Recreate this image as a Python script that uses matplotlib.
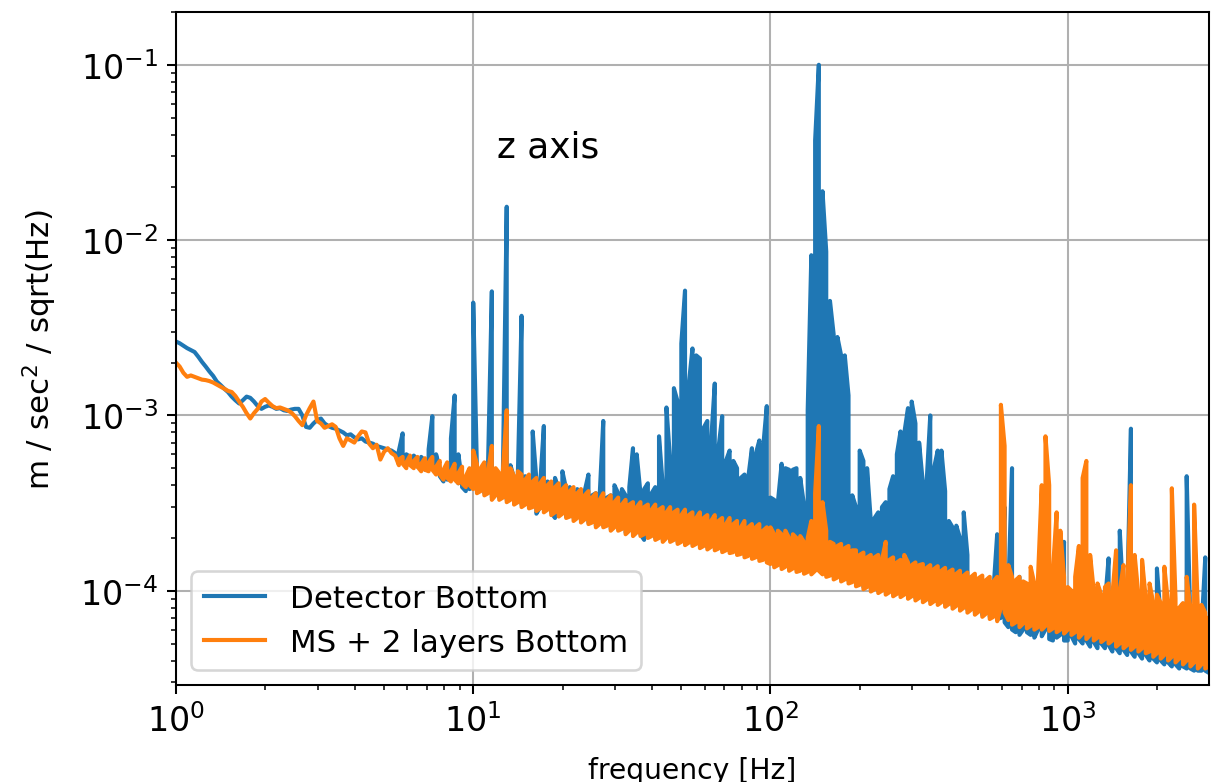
import matplotlib
matplotlib.use('Agg')
import numpy as np
import matplotlib.pyplot as plt

# Frequency bins of the amplitude spectra [Hz], 80 bins per decade
freq_hz = [
    # 1 - 10 Hz
    1.000, 1.029, 1.059, 1.090, 1.122, 1.155, 1.189, 1.223, 1.259, 1.296,
    1.334, 1.372, 1.413, 1.454, 1.496, 1.540, 1.585, 1.631, 1.679, 1.728,
    1.778, 1.830, 1.884, 1.939, 1.995, 2.054, 2.113, 2.175, 2.239, 2.304,
    2.371, 2.441, 2.512, 2.585, 2.661, 2.738, 2.818, 2.901, 2.985, 3.073,
    3.162, 3.255, 3.350, 3.447, 3.548, 3.652, 3.758, 3.868, 3.981, 4.097,
    4.217, 4.340, 4.467, 4.597, 4.732, 4.870, 5.012, 5.158, 5.309, 5.464,
    5.623, 5.788, 5.957, 6.131, 6.310, 6.494, 6.683, 6.879, 7.079, 7.286,
    7.499, 7.718, 7.943, 8.175, 8.414, 8.660, 8.913, 9.173, 9.441, 9.716,
    # 10 - 100 Hz
    10.00, 10.29, 10.59, 10.90, 11.22, 11.55, 11.89, 12.23, 12.59, 12.96,
    13.34, 13.72, 14.13, 14.54, 14.96, 15.40, 15.85, 16.31, 16.79, 17.28,
    17.78, 18.30, 18.84, 19.39, 19.95, 20.54, 21.13, 21.75, 22.39, 23.04,
    23.71, 24.41, 25.12, 25.85, 26.61, 27.38, 28.18, 29.01, 29.85, 30.73,
    31.62, 32.55, 33.50, 34.47, 35.48, 36.52, 37.58, 38.68, 39.81, 40.97,
    42.17, 43.40, 44.67, 45.97, 47.32, 48.70, 50.12, 51.58, 53.09, 54.64,
    56.23, 57.88, 59.57, 61.31, 63.10, 64.94, 66.83, 68.79, 70.79, 72.86,
    74.99, 77.18, 79.43, 81.75, 84.14, 86.60, 89.13, 91.73, 94.41, 97.16,
    # 100 - 1000 Hz
    100.0, 102.9, 105.9, 109.0, 112.2, 115.5, 118.9, 122.3, 125.9, 129.6,
    133.4, 137.2, 141.3, 145.4, 149.6, 154.0, 158.5, 163.1, 167.9, 172.8,
    177.8, 183.0, 188.4, 193.9, 199.5, 205.4, 211.3, 217.5, 223.9, 230.4,
    237.1, 244.1, 251.2, 258.5, 266.1, 273.8, 281.8, 290.1, 298.5, 307.3,
    316.2, 325.5, 335.0, 344.7, 354.8, 365.2, 375.8, 386.8, 398.1, 409.7,
    421.7, 434.0, 446.7, 459.7, 473.2, 487.0, 501.2, 515.8, 530.9, 546.4,
    562.3, 578.8, 595.7, 613.1, 631.0, 649.4, 668.3, 687.9, 707.9, 728.6,
    749.9, 771.8, 794.3, 817.5, 841.4, 866.0, 891.3, 917.3, 944.1, 971.6,
    # 1 - 3 kHz
    1000, 1029, 1059, 1090, 1122, 1155, 1189, 1223, 1259, 1296,
    1334, 1372, 1413, 1454, 1496, 1540, 1585, 1631, 1679, 1728,
    1778, 1830, 1884, 1939, 1995, 2054, 2113, 2175, 2239, 2304,
    2371, 2441, 2512, 2585, 2661, 2738, 2818, 2901, 2985,
]

# Detector bottom sensor, z axis: max / min of the ASD in each bin
# [1e-4 m/s^2/sqrt(Hz)]
detector_upper = [
    26.4, 25.8, 25.0, 24.2, 23.6, 23.0, 21.6, 20.2, 19.0, 17.8,
    16.8, 15.6, 14.9, 14.2, 13.6, 12.8, 12.2, 11.7, 12.2, 12.8,
    12.6, 12.0, 11.3, 10.9, 11.2, 11.4, 11.2, 10.9, 11.0, 10.7,
    10.6, 10.8, 10.9, 10.9, 10.0, 8.6, 8.5, 9.0, 9.4, 9.6,
    9.0, 8.7, 8.5, 8.4, 8.2, 8.0, 7.7, 7.8, 7.5, 7.3,
    7.4, 7.1, 7.0, 6.9, 6.7, 6.6, 6.5, 6.4, 6.3, 6.1,
    6.3, 7.9, 6.0, 5.8, 5.9, 5.6, 5.8, 5.5, 6.4, 9.9,
    6.0, 5.0, 4.6, 5.2, 7.4, 13.0, 6.0, 4.2, 3.9, 4.3,

    44.0, 5.0, 4.6, 5.2, 5.4, 51.0, 4.8, 4.5, 5.0, 155.0,
    5.2, 4.4, 4.6, 37.0, 4.5, 4.2, 8.1, 4.3, 4.0, 8.7,
    4.2, 3.9, 4.4, 3.8, 4.8, 3.8, 3.9, 3.6, 3.8, 3.5,
    3.7, 4.6, 3.5, 3.6, 3.4, 9.3, 3.4, 3.5, 4.0, 3.6,
    3.8, 3.5, 3.9, 6.5, 6.0, 3.6, 3.8, 4.1, 3.6, 3.9,
    7.6, 4.0, 11.1, 5.5, 14.3, 12.0, 25.7, 51.5, 15.0, 24.1,
    22.0, 21.1, 8.5, 9.3, 7.0, 15.2, 6.5, 9.9, 5.5, 6.3,
    5.5, 5.0, 4.4, 4.6, 4.4, 6.5, 6.0, 7.2, 6.5, 11.3,

    3.4, 3.3, 3.2, 5.3, 5.0, 4.9, 4.9, 5.0, 4.4, 3.1,
    10.7, 82.0, 370.0, 1000.0, 190.0, 86.0, 45.0, 29.0, 28.0, 22.0,
    22.0, 13.0, 3.5, 3.0, 6.3, 5.5, 5.0, 2.5, 2.6, 2.8,
    3.0, 3.2, 3.8, 4.5, 6.0, 8.1, 7.9, 11.0, 12.0, 9.0,
    7.0, 4.1, 4.1, 10.0, 5.0, 6.3, 6.3, 3.7, 2.5, 2.3,
    2.35, 2.0, 2.8, 1.6, 1.17, 1.1, 1.0, 1.1, 1.0, 1.05,
    1.0, 2.1, 1.0, 3.0, 1.0, 5.0, 1.1, 1.2, 0.9, 1.0,
    0.95, 1.1, 0.9, 1.2, 0.9, 1.1, 0.9, 1.0, 0.9, 1.9,

    0.9, 1.0, 0.95, 0.9, 0.95, 1.0, 0.9, 0.93, 0.9, 0.9,
    0.85, 1.53, 0.85, 0.9, 2.2, 0.85, 0.9, 8.4, 0.9, 0.8,
    0.8, 0.75, 0.75, 0.7, 1.34, 0.7, 0.7, 0.7, 0.8, 0.7,
    0.7, 0.65, 4.5, 0.65, 0.7, 0.6, 0.6, 1.55, 0.6,
]

detector_lower = [
    26.4, 25.8, 25.0, 24.2, 23.6, 23.0, 21.6, 20.2, 19.0, 17.8,
    16.8, 15.6, 14.9, 14.2, 13.6, 12.8, 12.2, 11.7, 12.2, 12.8,
    12.6, 12.0, 11.3, 10.9, 11.2, 11.4, 11.2, 10.9, 11.0, 10.7,
    10.6, 10.8, 10.9, 10.9, 10.0, 8.6, 8.5, 9.0, 9.4, 9.6,
    9.0, 8.7, 8.5, 8.4, 8.2, 8.0, 7.7, 7.8, 7.5, 7.3,
    7.4, 7.1, 7.0, 6.9, 6.7, 6.6, 6.5, 6.4, 6.3, 6.1,
    5.8, 5.7, 5.5, 5.3, 5.4, 5.1, 5.2, 4.9, 5.0, 5.0,
    4.8, 4.5, 4.2, 4.3, 4.4, 4.5, 4.1, 3.9, 3.7, 3.8,

    3.9, 3.7, 3.8, 3.6, 3.7, 3.4, 3.6, 3.4, 3.5, 3.3,
    3.4, 3.2, 3.3, 3.1, 3.2, 3.0, 3.1, 2.75, 3.0, 2.9,
    3.0, 2.8, 2.6, 2.75, 2.8, 2.65, 2.7, 2.6, 2.65, 2.5,
    2.6, 2.45, 2.5, 2.35, 2.45, 2.35, 2.4, 2.25, 2.35, 2.25,
    2.3, 2.15, 2.25, 2.1, 2.2, 2.1, 1.95, 2.05, 2.1, 2.0,
    2.05, 1.95, 2.05, 1.95, 2.0, 1.9, 1.95, 1.87, 1.93, 1.85,
    1.9, 1.8, 1.85, 1.77, 1.83, 1.75, 1.79, 1.71, 1.75, 1.69,
    1.71, 1.65, 1.67, 1.6, 1.63, 1.57, 1.6, 1.53, 1.55, 1.5,

    1.46, 1.4, 1.44, 1.37, 1.41, 1.34, 1.38, 1.32, 1.34, 1.29,
    1.32, 1.28, 1.34, 1.34, 1.28, 1.24, 1.26, 1.2, 1.23, 1.17,
    1.2, 1.14, 1.16, 1.1, 1.12, 1.05, 1.08, 1.02, 1.05, 1.0,
    1.03, 0.98, 1.01, 0.96, 0.99, 0.95, 0.98, 0.93, 0.96, 0.91,
    0.94, 0.89, 0.92, 0.87, 0.9, 0.86, 0.89, 0.84, 0.87, 0.82,
    0.85, 0.8, 0.83, 0.78, 0.8, 0.75, 0.78, 0.73, 0.76, 0.71,
    0.73, 0.69, 0.7, 0.66, 0.62, 0.6, 0.58, 0.56, 0.6, 0.58,
    0.56, 0.54, 0.6, 0.55, 0.6, 0.53, 0.52, 0.54, 0.56, 0.52,

    0.52, 0.55, 0.5, 0.53, 0.5, 0.52, 0.48, 0.51, 0.47, 0.5,
    0.47, 0.49, 0.45, 0.47, 0.44, 0.46, 0.43, 0.45, 0.42, 0.44,
    0.41, 0.43, 0.4, 0.41, 0.39, 0.4, 0.38, 0.39, 0.37, 0.38,
    0.36, 0.37, 0.36, 0.36, 0.35, 0.35, 0.35, 0.35, 0.34,
]

# MS + 2 layers, bottom sensor, z axis: max / min of the ASD in each bin
# [1e-4 m/s^2/sqrt(Hz)]
ms_2layers_upper = [
    20.0, 19.0, 17.5, 16.6, 16.9, 16.6, 16.3, 16.0, 15.9, 15.7,
    15.4, 15.0, 14.6, 14.2, 13.8, 13.6, 12.9, 12.0, 11.2, 10.3,
    9.6, 10.3, 10.9, 12.0, 12.4, 11.8, 11.3, 11.0, 11.1, 10.9,
    10.7, 10.4, 9.9, 9.3, 8.8, 10.0, 11.0, 12.0, 9.3, 9.0,
    8.5, 8.7, 8.9, 8.6, 7.4, 6.7, 7.4, 7.2, 7.0, 7.6,
    8.1, 8.0, 6.9, 6.5, 6.8, 5.6, 6.2, 6.5, 6.1, 5.9,
    5.6, 5.8, 5.4, 5.9, 5.5, 5.8, 5.3, 5.7, 5.4, 5.8,
    5.1, 5.5, 4.9, 5.4, 4.8, 5.3, 4.7, 5.1, 4.5, 5.0,

    6.3, 5.3, 5.0, 5.4, 4.8, 6.7, 5.0, 4.7, 4.9, 10.7,
    5.0, 4.5, 4.8, 4.6, 4.3, 4.6, 4.2, 4.4, 4.1, 4.4,
    4.0, 4.2, 3.9, 4.1, 3.8, 4.0, 3.7, 3.9, 3.6, 3.8,
    3.5, 3.7, 3.4, 3.6, 3.3, 3.6, 3.3, 3.5, 3.2, 3.4,
    3.1, 3.3, 3.1, 3.2, 3.0, 3.2, 3.0, 3.1, 2.9, 3.1,
    2.9, 3.0, 2.8, 3.0, 2.8, 2.9, 2.7, 2.9, 2.7, 2.8,
    2.6, 2.8, 2.6, 2.7, 2.5, 2.7, 2.5, 2.6, 2.4, 2.6,
    2.4, 2.5, 2.3, 2.5, 2.3, 2.4, 2.3, 2.4, 2.2, 2.3,

    2.3, 2.1, 2.2, 2.1, 2.2, 2.0, 2.1, 2.0, 2.05, 1.9,
    2.0, 2.5, 3.6, 8.7, 3.2, 2.2, 1.9, 1.85, 1.8, 1.85,
    1.75, 1.8, 1.7, 1.7, 1.6, 1.65, 1.55, 1.6, 1.55, 1.6,
    1.5, 1.9, 1.5, 1.55, 1.45, 1.5, 1.6, 1.45, 1.4, 1.45,
    1.4, 1.42, 1.35, 1.4, 1.33, 1.38, 1.3, 1.35, 1.28, 1.32,
    1.25, 1.3, 1.22, 1.27, 1.2, 1.25, 1.18, 1.22, 1.15, 1.2,
    1.13, 1.2, 11.5, 6.7, 1.4, 1.2, 1.15, 1.2, 1.13, 1.1,
    1.37, 1.1, 1.2, 4.0, 7.6, 4.0, 1.3, 2.8, 2.2, 1.2,

    1.05, 1.0, 1.2, 1.8, 4.4, 5.5, 1.6, 1.0, 1.1, 0.95,
    1.05, 1.1, 0.95, 1.7, 1.0, 1.4, 1.0, 4.0, 1.6, 0.95,
    1.5, 0.9, 1.1, 0.85, 0.95, 0.85, 1.37, 0.85, 3.84, 0.9,
    0.8, 0.85, 1.2, 0.8, 3.1, 0.8, 0.83, 0.75, 0.7,
]

ms_2layers_lower = [
    20.0, 19.0, 17.5, 16.6, 16.9, 16.6, 16.3, 16.0, 15.9, 15.7,
    15.4, 15.0, 14.6, 14.2, 13.8, 13.6, 12.9, 12.0, 11.2, 10.3,
    9.6, 10.3, 10.9, 12.0, 12.4, 11.8, 11.3, 11.0, 11.1, 10.9,
    10.7, 10.4, 9.9, 9.3, 8.8, 10.0, 11.0, 12.0, 9.3, 9.0,
    8.5, 8.7, 8.9, 8.6, 7.4, 6.7, 7.4, 7.2, 7.0, 7.6,
    8.1, 8.0, 6.9, 6.5, 6.8, 5.6, 6.2, 6.5, 6.1, 5.9,
    5.2, 5.3, 5.0, 5.2, 5.0, 5.1, 4.8, 4.9, 4.8, 4.9,
    4.6, 4.6, 4.3, 4.4, 4.2, 4.3, 4.1, 4.1, 3.9, 4.0,

    3.8, 3.6, 3.7, 3.5, 3.6, 3.3, 3.5, 3.3, 3.4, 3.2,
    3.3, 3.1, 3.2, 3.0, 3.1, 2.95, 3.0, 2.85, 2.95, 2.8,
    2.9, 2.7, 2.8, 2.65, 2.75, 2.6, 2.65, 2.5, 2.6, 2.45,
    2.55, 2.4, 2.45, 2.3, 2.4, 2.3, 2.35, 2.2, 2.3, 2.2,
    2.25, 2.1, 2.2, 2.05, 2.15, 2.05, 2.1, 2.0, 2.05, 1.95,
    2.0, 1.9, 2.0, 1.9, 1.95, 1.85, 1.9, 1.82, 1.88, 1.8,
    1.85, 1.75, 1.8, 1.72, 1.78, 1.7, 1.74, 1.66, 1.7, 1.64,
    1.66, 1.6, 1.62, 1.55, 1.58, 1.52, 1.55, 1.48, 1.5, 1.45,

    1.42, 1.36, 1.4, 1.33, 1.37, 1.3, 1.34, 1.28, 1.3, 1.25,
    1.28, 1.24, 1.3, 1.3, 1.24, 1.2, 1.22, 1.16, 1.19, 1.13,
    1.16, 1.1, 1.12, 1.06, 1.08, 1.02, 1.05, 0.99, 1.02, 0.97,
    1.0, 0.95, 0.98, 0.93, 0.96, 0.92, 0.95, 0.9, 0.93, 0.88,
    0.91, 0.86, 0.89, 0.84, 0.87, 0.83, 0.86, 0.81, 0.84, 0.79,
    0.82, 0.77, 0.8, 0.75, 0.78, 0.73, 0.76, 0.71, 0.74, 0.69,
    0.71, 0.67, 0.8, 0.75, 0.68, 0.64, 0.66, 0.62, 0.65, 0.61,
    0.63, 0.6, 0.62, 0.6, 0.63, 0.59, 0.61, 0.58, 0.6, 0.57,

    0.6, 0.56, 0.58, 0.54, 0.57, 0.53, 0.56, 0.52, 0.54, 0.51,
    0.53, 0.5, 0.52, 0.48, 0.5, 0.47, 0.49, 0.46, 0.48, 0.45,
    0.47, 0.44, 0.45, 0.42, 0.44, 0.41, 0.43, 0.4, 0.42, 0.39,
    0.41, 0.38, 0.4, 0.37, 0.39, 0.36, 0.38, 0.36, 0.37,
]

labels = ['Detector Bottom', 'MS + 2 layers Bottom']


# Each bin is drawn from its min to its max, alternating direction so that
# the trace runs along the top and bottom edges like a dense spectrum
def minmax_trace(freq, upper, lower):
    xs, ys = [], []
    for i, (fr, hi, lo) in enumerate(zip(freq, upper, lower)):
        xs += [fr, fr]
        ys += [lo, hi] if i % 2 == 0 else [hi, lo]
    return np.array(xs), np.array(ys) * 1e-4


f_det, asd_det = minmax_trace(freq_hz, detector_upper, detector_lower)
f_ms, asd_ms = minmax_trace(freq_hz, ms_2layers_upper, ms_2layers_lower)

plt.figure(figsize=(6.546, 4.2324), dpi=185)
plt.subplots_adjust(left=0.1453, right=0.9983, bottom=0.1239, top=0.9834)

plt.loglog(f_det, asd_det, lw=1.6, label=labels[0])
plt.loglog(f_ms, asd_ms, lw=1.6, label=labels[1])

plt.xlim(freq_hz[0], freq_hz[-1])
plt.ylim(2.9e-5, 0.2)
plt.grid(True)
plt.xticks(fontsize=13)
plt.yticks(fontsize=13)
plt.text(12, 0.03, 'z axis', fontsize=14)
plt.xlabel('frequency [Hz]', fontsize=11, labelpad=7)
plt.ylabel(r'm / sec$^2$ / sqrt(Hz)', fontsize=12, labelpad=8)
plt.legend(loc='lower left', fontsize=12)

plt.savefig('out.png', dpi=185)
